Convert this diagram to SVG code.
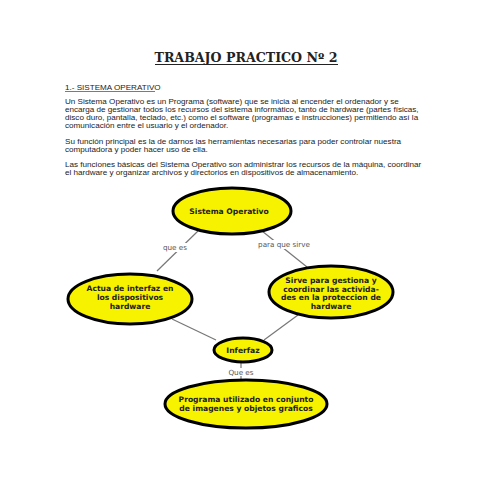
<svg xmlns="http://www.w3.org/2000/svg" width="495" height="495" viewBox="0 0 495 495">
<style>
.body{font-family:"Liberation Sans",Arial,sans-serif;font-size:8.1px;fill:#222}
.node ellipse{fill:#f7f200;stroke:#000;stroke-width:3}
.node text{font-family:"DejaVu Sans",Verdana,sans-serif;font-weight:bold;font-size:7.6px;fill:#222;text-anchor:middle}
.lbl{font-family:"DejaVu Sans",Verdana,sans-serif;font-size:7.2px;fill:#555;text-anchor:middle}
.conn line{stroke:#777;stroke-width:1.2}
</style>
<rect width="495" height="495" fill="#fff"/>
<text x="246" y="62" text-anchor="middle" font-family="'DejaVu Serif',serif" font-weight="bold" font-size="12" fill="#222" textLength="183" lengthAdjust="spacingAndGlyphs">TRABAJO PRACTICO Nº 2</text>
<line x1="155" y1="64.5" x2="338" y2="64.5" stroke="#222" stroke-width="1"/>
<text class="body" x="65" y="90">1.- SISTEMA OPERATIVO</text>
<line x1="65" y1="91.5" x2="155" y2="91.5" stroke="#222" stroke-width="0.6"/>
<text class="body" x="65" y="104">Un Sistema Operativo es un Programa (software) que se inicia al encender el ordenador y se</text>
<text class="body" x="65" y="112">encarga de gestionar todos los recursos del sistema informático, tanto de hardware (partes físicas,</text>
<text class="body" x="65" y="120">disco duro, pantalla, teclado, etc.) como el software (programas e instrucciones) permitiendo así la</text>
<text class="body" x="65" y="128">comunicación entre el usuario y el ordenador.</text>
<text class="body" x="65" y="144">Su función principal es la de darnos las herramientas necesarias para poder controlar nuestra</text>
<text class="body" x="65" y="152">computadora y poder hacer uso de ella.</text>
<text class="body" x="65" y="167">Las funciones básicas del Sistema Operativo son administrar los recursos de la máquina, coordinar</text>
<text class="body" x="65" y="175">el hardware y organizar archivos y directorios en dispositivos de almacenamiento.</text>
<g class="conn" id="connectors">
<line x1="198" y1="231" x2="157" y2="271"/>
<line x1="262" y1="231" x2="307" y2="267"/>
<line x1="172" y1="319" x2="216" y2="340"/>
<line x1="298" y1="315" x2="264" y2="340"/>
<line x1="241" y1="362" x2="241" y2="368"/>
<line x1="241" y1="376" x2="241" y2="380"/>
<rect x="157" y="243" width="36" height="9" fill="#fff"/>
<text class="lbl" x="175" y="250">que es</text>
<rect x="254" y="240" width="60" height="9" fill="#fff"/>
<text class="lbl" x="284" y="247">para que sirve</text>
<text class="lbl" x="241" y="375">Que es</text>
</g>
<g class="node" id="sistema">
<ellipse cx="232" cy="211" rx="59" ry="23"/>
<text x="229" y="214">Sistema Operativo</text>
</g>
<g class="node" id="actua">
<ellipse cx="130" cy="299" rx="62" ry="25"/>
<text x="130" y="291">Actua de interfaz en</text>
<text x="130" y="300">los dispositivos</text>
<text x="130" y="309">hardware</text>
</g>
<g class="node" id="sirve">
<ellipse cx="331" cy="292" rx="62" ry="26"/>
<text x="331" y="283">Sirve para gestiona y</text>
<text x="331" y="291.5">coordinar las activida-</text>
<text x="331" y="300">des en la proteccion de</text>
<text x="331" y="308.5">hardware</text>
</g>
<g class="node" id="inferfaz">
<ellipse cx="243" cy="350" rx="29" ry="12"/>
<text x="243" y="353">Inferfaz</text>
</g>
<g class="node" id="programa">
<ellipse cx="246" cy="404" rx="81" ry="24"/>
<text x="246" y="402">Programa utilizado en conjunto</text>
<text x="246" y="411">de imagenes y objetos graficos</text>
</g>
</svg>
